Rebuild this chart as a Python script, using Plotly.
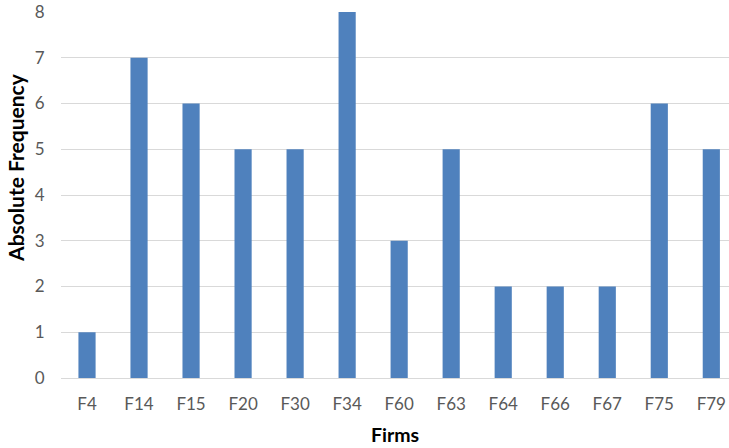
import plotly.graph_objects as go

firms = ["F4", "F14", "F15", "F20", "F30", "F34", "F60", "F63", "F64", "F66", "F67", "F75", "F79"]
frequency = [1, 7, 6, 5, 5, 8, 3, 5, 2, 2, 2, 6, 5]
y_ticks = [0, 1, 2, 3, 4, 5, 6, 7, 8]

bar_color = "#4f81bd"
grid_color = "#d9d9d9"
tick_color = "#595959"
font_family = "Lato, 'Open Sans', sans-serif"

fig = go.Figure(
    go.Bar(x=firms, y=frequency, marker=dict(color=bar_color, line=dict(width=0)))
)

fig.update_layout(
    width=729,
    height=448,
    margin=dict(l=61, r=0, t=12, b=70),
    paper_bgcolor="white",
    plot_bgcolor="white",
    bargap=0.67,
    showlegend=False,
    font=dict(family=font_family, color=tick_color, size=17),
)

fig.update_xaxes(
    type="category",
    range=[-0.5, 12.34],
    showgrid=False,
    showline=False,
    zeroline=False,
    ticks="outside",
    ticklen=11,
    tickcolor="rgba(0,0,0,0)",
    tickfont=dict(size=17, color=tick_color),
    title=dict(text="<b>Firms</b>", font=dict(size=19.5, color="#000000"), standoff=14),
)

fig.update_yaxes(
    range=[0, 8],
    tickvals=y_ticks,
    showgrid=True,
    gridcolor=grid_color,
    gridwidth=1,
    zeroline=True,
    zerolinecolor=grid_color,
    zerolinewidth=1,
    showline=False,
    ticks="outside",
    ticklen=12,
    tickcolor="rgba(0,0,0,0)",
    tickfont=dict(size=17, color=tick_color),
)

# Vertical axis title, placed as an annotation so it can sit above the plot centre
fig.add_annotation(
    text="<b>Absolute Frequency</b>",
    textangle=-90,
    xref="paper",
    yref="paper",
    x=0,
    y=0.574,
    xshift=-45,
    xanchor="center",
    yanchor="middle",
    showarrow=False,
    font=dict(size=21, color="#000000", family=font_family),
)

fig.write_html("out.html")
